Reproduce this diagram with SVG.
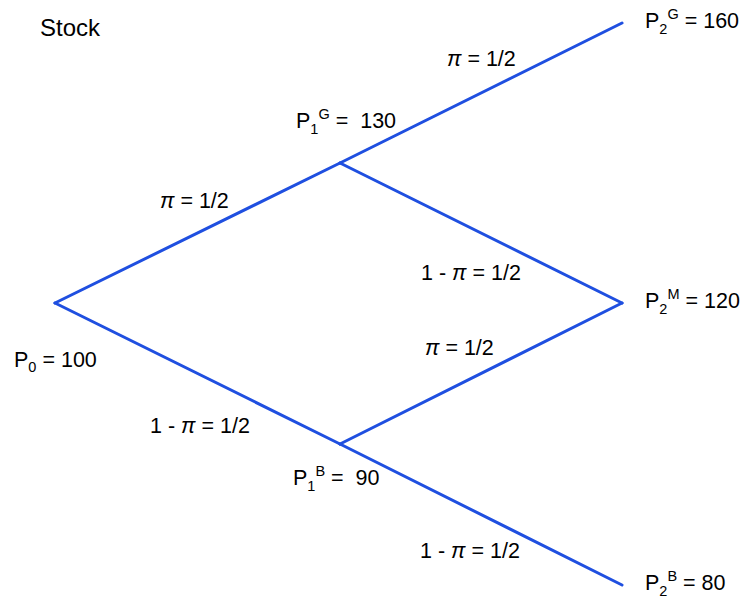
<svg xmlns="http://www.w3.org/2000/svg" width="745" height="603" viewBox="0 0 745 603">
<style>
text{font-family:"Liberation Sans",Arial,sans-serif;font-size:21.5px;fill:#000}
.s{font-size:14.5px}
.pi{font-style:italic}
.e{stroke:#1f4fe0;stroke-width:3;fill:none;stroke-linecap:round}
</style>
<rect width="745" height="603" fill="#fff"/>
<text x="40" y="36" style="font-size:24px">Stock</text>
<g id="connectors">
<line class="e" x1="55" y1="303" x2="340" y2="163"/>
<line class="e" x1="340" y1="163" x2="622" y2="23"/>
<line class="e" x1="340" y1="163" x2="622" y2="303"/>
<line class="e" x1="55" y1="303" x2="340" y2="444"/>
<line class="e" x1="340" y1="444" x2="622" y2="303"/>
<line class="e" x1="340" y1="444" x2="622" y2="585"/>
<text x="447" y="66"><tspan class="pi">π</tspan> = 1/2</text>
<text x="160" y="208"><tspan class="pi">π</tspan> = 1/2</text>
<text x="421" y="280">1 - <tspan class="pi">π</tspan> = 1/2</text>
<text x="425" y="355"><tspan class="pi">π</tspan> = 1/2</text>
<text x="150" y="433">1 - <tspan class="pi">π</tspan> = 1/2</text>
<text x="420" y="558">1 - <tspan class="pi">π</tspan> = 1/2</text>
</g>
<g id="P0"><text x="14" y="367">P<tspan class="s" dy="5">0</tspan><tspan dy="-5"> = 100</tspan></text></g>
<g id="P1G"><text x="296" y="128">P<tspan class="s" dy="6">1</tspan><tspan class="s" dy="-15">G</tspan><tspan dy="9"> =&#160; 130</tspan></text></g>
<g id="P1B"><text x="293" y="485">P<tspan class="s" dy="6">1</tspan><tspan class="s" dy="-15">B</tspan><tspan dy="9"> =&#160; 90</tspan></text></g>
<g id="P2G"><text x="645" y="28">P<tspan class="s" dy="6">2</tspan><tspan class="s" dy="-15">G</tspan><tspan dy="9"> = 160</tspan></text></g>
<g id="P2M"><text x="645" y="308">P<tspan class="s" dy="6">2</tspan><tspan class="s" dy="-15">M</tspan><tspan dy="9"> = 120</tspan></text></g>
<g id="P2B"><text x="645" y="590">P<tspan class="s" dy="6">2</tspan><tspan class="s" dy="-15">B</tspan><tspan dy="9"> = 80</tspan></text></g>
</svg>
